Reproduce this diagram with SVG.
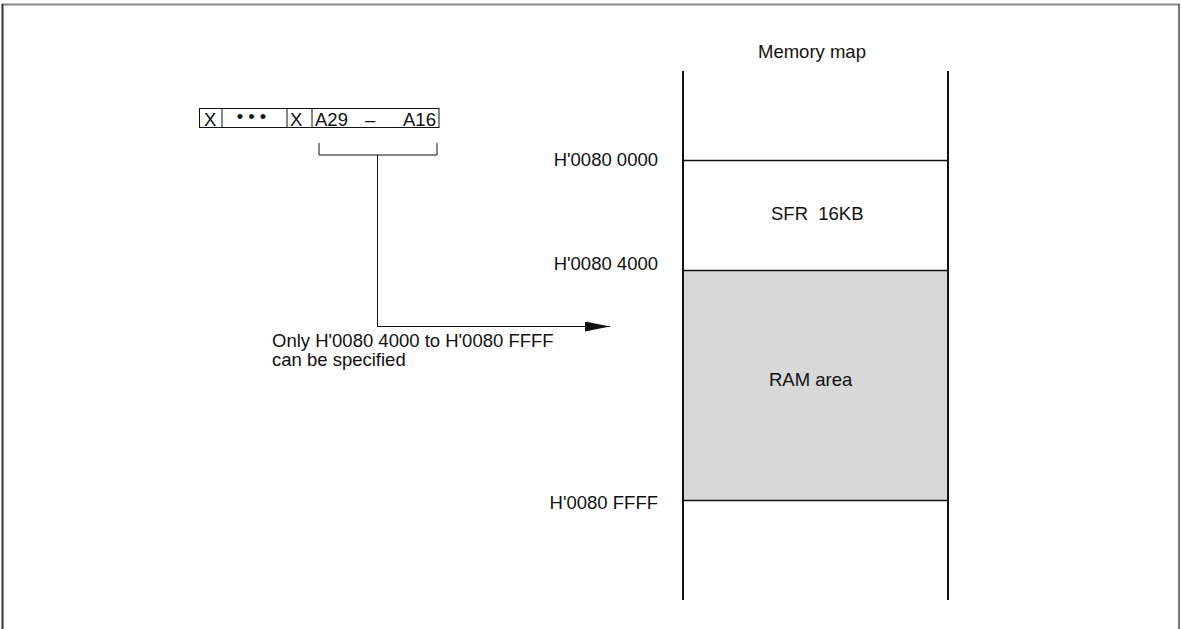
<svg xmlns="http://www.w3.org/2000/svg" width="1182" height="629" viewBox="0 0 1182 629">
<style>
text{font-family:"Liberation Sans",Arial,sans-serif;font-size:18.5px;fill:#111;white-space:pre}
.ln{stroke:#111;fill:none}
</style>
<defs>
<marker id="ah" markerWidth="25" markerHeight="10" refX="25" refY="5" orient="auto" markerUnits="userSpaceOnUse">
<polygon points="0,0 25,5 0,10" fill="#111"/>
</marker>
</defs>
<rect width="1182" height="629" fill="#fff"/>
<g id="frame">
<line x1="2" y1="4.5" x2="1180" y2="4.5" stroke="#888" stroke-width="2"/>
<line x1="2.5" y1="4" x2="2.5" y2="629" stroke="#333" stroke-width="2"/>
<line x1="1179" y1="4" x2="1179" y2="629" stroke="#777" stroke-width="2"/>
</g>
<g id="register">
<rect x="199.5" y="108.5" width="239.5" height="19" class="ln" stroke-width="1"/>
<line x1="222" y1="108.5" x2="222" y2="127.5" class="ln"/>
<line x1="287" y1="108.5" x2="287" y2="127.5" class="ln"/>
<line x1="312" y1="108.5" x2="312" y2="127.5" class="ln"/>
<text x="204" y="126">X</text>
<text x="251.5" y="122.5" text-anchor="middle" font-size="16">• • •</text>
<text x="290" y="126">X</text>
<text x="315" y="126">A29</text>
<text x="365" y="126">–</text>
<text x="403" y="126">A16</text>
</g>
<g id="bracket">
<polyline points="319,143 319,155 437,155 437,143" class="ln" stroke="#555"/>
</g>
<g id="memory-map">
<text x="758" y="58">Memory map</text>
<rect x="683" y="270.5" width="265" height="230" fill="#d8d8d8"/>
<line x1="683" y1="71" x2="683" y2="600" class="ln" stroke-width="2"/>
<line x1="948" y1="71" x2="948" y2="600" class="ln" stroke-width="2"/>
<line x1="683" y1="160.5" x2="948" y2="160.5" class="ln" stroke-width="1.5"/>
<line x1="683" y1="270.5" x2="948" y2="270.5" class="ln" stroke-width="1.5"/>
<line x1="683" y1="500.5" x2="948" y2="500.5" class="ln" stroke-width="1.5"/>
<text x="771" y="220" xml:space="preserve">SFR  16KB</text>
<text x="769" y="386">RAM area</text>
</g>
<g id="addresses">
<text x="658" y="166" text-anchor="end">H'0080 0000</text>
<text x="658" y="270" text-anchor="end">H'0080 4000</text>
<text x="658" y="509" text-anchor="end">H'0080 FFFF</text>
</g>
<g id="connectors">
<polyline points="377.5,155 377.5,326.5 610,326.5" class="ln" stroke-width="1" marker-end="url(#ah)"/>
</g>
<g id="note">
<text x="272" y="347">Only H'0080 4000 to H'0080 FFFF</text>
<text x="272" y="366">can be specified</text>
</g>
</svg>
